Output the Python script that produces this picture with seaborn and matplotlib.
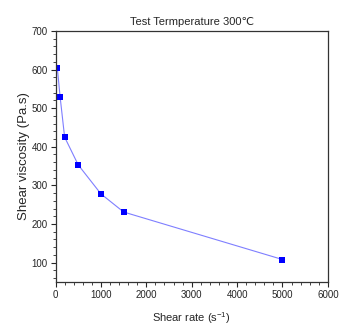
import matplotlib

matplotlib.use("Agg")

import matplotlib.pyplot as plt
import pandas as pd
import seaborn as sns
from matplotlib.ticker import MultipleLocator

shear_rate = [40, 100, 200, 500, 1000, 1500, 5000]
viscosity = [603, 530, 425, 353, 278, 231, 108]

sns.set_theme(style="ticks")
FONTS = ["Liberation Sans", "DejaVu Sans"]
plt.rcParams["font.family"] = FONTS
plt.rcParams["mathtext.fontset"] = "custom"
plt.rcParams["mathtext.rm"] = "Liberation Sans"
plt.rcParams["mathtext.it"] = "Liberation Sans"

df = pd.DataFrame({"rate": shear_rate, "visc": viscosity})

fig = plt.figure(figsize=(3.56, 3.36), dpi=100)
ax = fig.add_axes([0.156, 0.161, 0.765, 0.747])

sns.lineplot(data=df, x="rate", y="visc", ax=ax, color="#7f7fff", linewidth=0.8,
             marker="s", markersize=4.5, markerfacecolor="#0000ff",
             markeredgecolor="#0000ff", markeredgewidth=0)

ax.set_xlim(0, 6000)
ax.set_ylim(50, 700)
ax.xaxis.set_major_locator(MultipleLocator(1000))
ax.xaxis.set_minor_locator(MultipleLocator(200))
ax.yaxis.set_major_locator(MultipleLocator(100))
ax.yaxis.set_minor_locator(MultipleLocator(20))
ax.tick_params(which="major", direction="out", length=3.5, width=0.8, labelsize=7, pad=2)
ax.tick_params(which="minor", direction="out", length=2, width=0.6)
for s in ax.spines.values():
    s.set_linewidth(0.9)
    s.set_color("#333333")

ax.set_xlabel("Shear rate (s$^{\\mathregular{-1}}$)", fontsize=8, labelpad=8)
ax.set_ylabel("Shear viscosity (Pa.s)", fontsize=9.5, labelpad=1)
ax.set_title("Test Termperature 300\u2103", fontsize=8, pad=4,
             fontfamily=FONTS + ["Noto Sans CJK SC"])

fig.savefig("out.png", dpi=100)
